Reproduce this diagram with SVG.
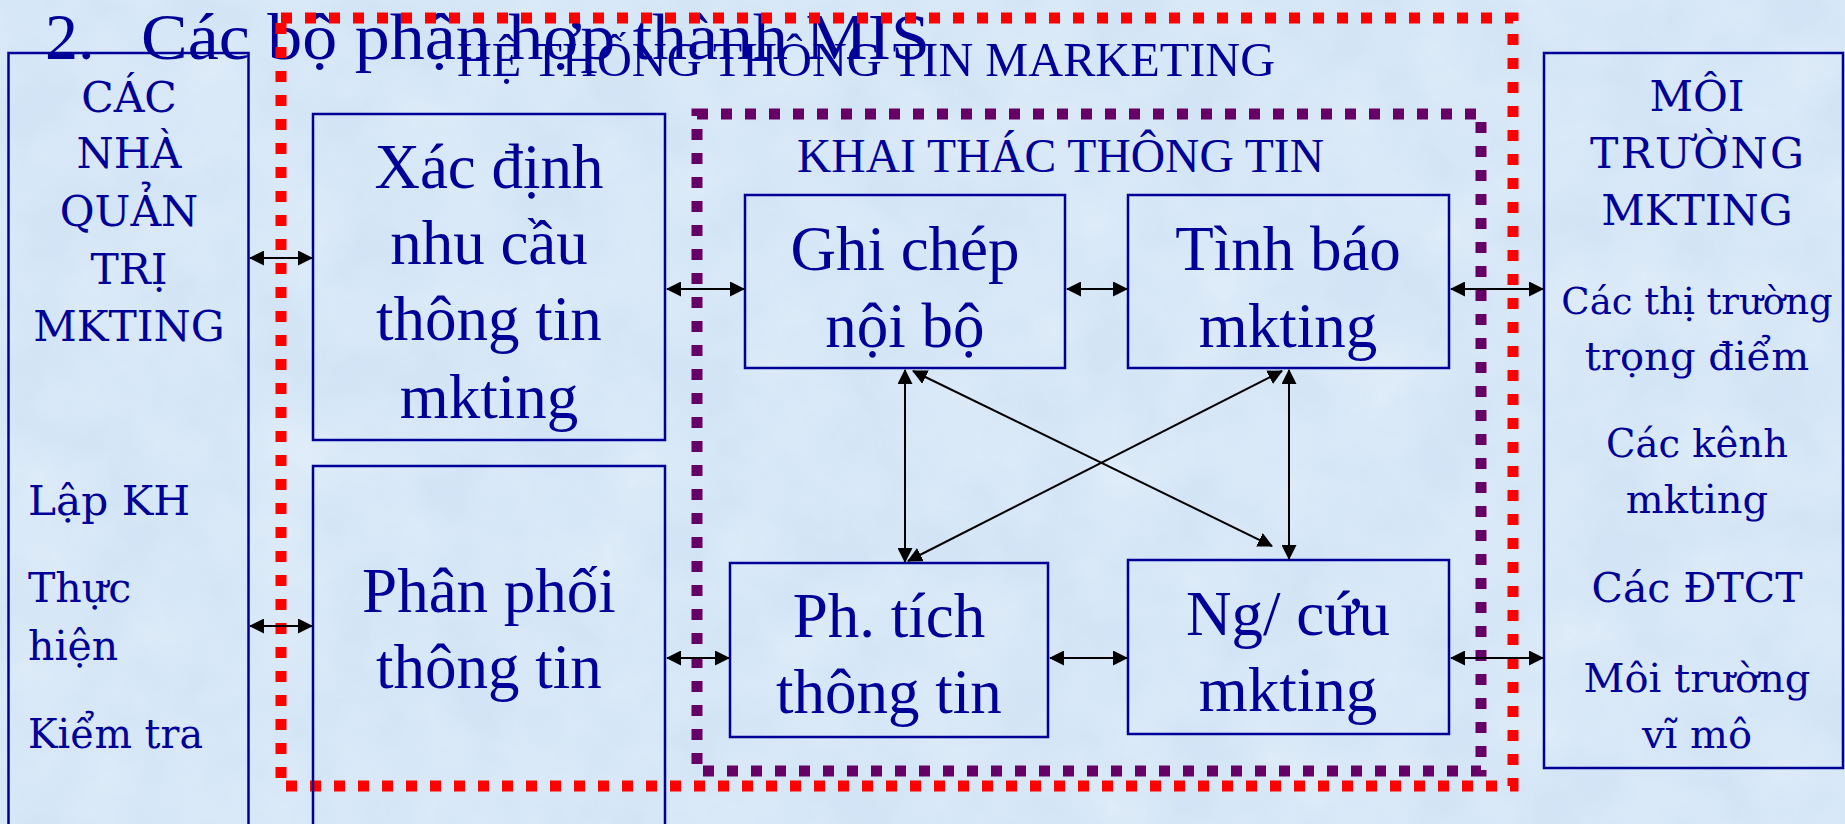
<svg xmlns="http://www.w3.org/2000/svg" width="1845" height="824" viewBox="0 0 1845 824">
<style>
.t{font-family:"Liberation Serif","Times New Roman",serif;fill:#000099;text-anchor:middle}
.d{font-family:"DejaVu Serif",serif;fill:#000099;font-size:41px}
.d.cap{font-size:42.5px}
.d.s40{font-size:40px}
.dc{text-anchor:middle}
.box{fill:none;stroke:#000099;stroke-width:2.5}
.con line{stroke:#000;stroke-width:2;marker-start:url(#ah);marker-end:url(#ah)}
</style>
<defs>
<marker id="ah" viewBox="0 0 15 15" refX="14" refY="7.5" markerWidth="15" markerHeight="15" markerUnits="userSpaceOnUse" orient="auto-start-reverse">
<path d="M0,0 L15,7.5 L0,15 z" fill="#000"/>
</marker>
<filter id="tex" x="0" y="0" width="100%" height="100%">
<feTurbulence type="fractalNoise" baseFrequency="0.012" numOctaves="4" seed="3"/>
<feColorMatrix type="matrix" values="0 0 0 0 0.86  0 0 0 0 0.92  0 0 0 0 0.98  0 0 0 -1.2 0.9"/>
</filter>
</defs>
<rect width="1845" height="824" fill="#D2E4F5"/>
<rect width="1845" height="824" filter="url(#tex)" opacity="0.6"/>

<g id="title">
<text x="45" y="59" font-family="Liberation Serif, serif" font-size="66" fill="#000099">2.</text>
<text x="141" y="59" font-family="Liberation Serif, serif" font-size="66" fill="#000099" textLength="789" lengthAdjust="spacingAndGlyphs">Các bộ phận hợp thành MIS</text>
</g>

<g id="he-thong">
<rect x="281" y="18" width="1232" height="768" fill="none" stroke="#FF0000" stroke-width="11" stroke-dasharray="11 13"/>
<text class="t" x="866" y="76" font-size="48" textLength="818" lengthAdjust="spacingAndGlyphs">HỆ THỐNG THÔNG TIN MARKETING</text>
</g>

<g id="khai-thac">
<rect x="697" y="114" width="784" height="657" fill="none" stroke="#660066" stroke-width="11" stroke-dasharray="11 13"/>
<text x="797" y="172" font-family="Liberation Serif, serif" font-size="48" fill="#000099" textLength="527" lengthAdjust="spacingAndGlyphs">KHAI THÁC THÔNG TIN</text>
</g>

<g id="nha-quan-tri">
<rect class="box" x="8.5" y="53" width="240" height="800"/>
<text class="d dc cap" x="129" y="112">CÁC</text>
<text class="d dc cap" x="129" y="168">NHÀ</text>
<text class="d dc cap" x="129" y="226">QUẢN</text>
<text class="d dc cap" x="129" y="284">TRỊ</text>
<text class="d dc cap" x="129" y="341">MKTING</text>
<text class="d" x="28" y="515" textLength="162" lengthAdjust="spacingAndGlyphs">Lập KH</text>
<text class="d" x="28" y="602">Thực</text>
<text class="d" x="28" y="660">hiện</text>
<text class="d" x="28" y="748" textLength="175" lengthAdjust="spacingAndGlyphs">Kiểm tra</text>
</g>

<g id="xac-dinh">
<rect class="box" x="313" y="114" width="352" height="326"/>
<text class="t" x="489" y="188" font-size="63">Xác định</text>
<text class="t" x="489" y="264" font-size="63">nhu cầu</text>
<text class="t" x="489" y="340" font-size="63">thông tin</text>
<text class="t" x="489" y="418" font-size="63">mkting</text>
</g>

<g id="phan-phoi">
<rect class="box" x="313" y="466" width="352" height="400"/>
<text class="t" x="489" y="612" font-size="63">Phân phối</text>
<text class="t" x="489" y="688" font-size="63">thông tin</text>
</g>

<g id="ghi-chep">
<rect class="box" x="745" y="195" width="320" height="173"/>
<text class="t" x="905" y="270" font-size="63">Ghi chép</text>
<text class="t" x="905" y="347" font-size="63">nội bộ</text>
</g>

<g id="tinh-bao">
<rect class="box" x="1128" y="195" width="321" height="173"/>
<text class="t" x="1288" y="270" font-size="63">Tình báo</text>
<text class="t" x="1288" y="347" font-size="63">mkting</text>
</g>

<g id="phan-tich">
<rect class="box" x="730" y="563" width="318" height="174"/>
<text class="t" x="889" y="637" font-size="63">Ph. tích</text>
<text class="t" x="889" y="713" font-size="63">thông tin</text>
</g>

<g id="nghien-cuu">
<rect class="box" x="1128" y="560" width="321" height="174"/>
<text class="t" x="1288" y="635" font-size="63">Ng/ cứu</text>
<text class="t" x="1288" y="711" font-size="63">mkting</text>
</g>

<g id="moi-truong">
<rect class="box" x="1544" y="53" width="299" height="715"/>
<text class="d dc cap" x="1697" y="111">MÔI</text>
<text class="d dc cap" x="1697" y="168" textLength="214" lengthAdjust="spacing">TRƯỜNG</text>
<text class="d dc cap" x="1697" y="225">MKTING</text>
<text class="d dc" x="1697" y="314" style="font-size:37px">Các thị trường</text>
<text class="d dc s40" x="1697" y="370">trọng điểm</text>
<text class="d dc" x="1697" y="457" style="font-size:38.5px">Các kênh</text>
<text class="d dc s40" x="1697" y="513">mkting</text>
<text class="d dc" x="1697" y="602" textLength="211" lengthAdjust="spacingAndGlyphs">Các ĐTCT</text>
<text class="d dc s40" x="1697" y="692">Môi trường</text>
<text class="d dc s40" x="1697" y="748">vĩ mô</text>
</g>

<g id="connectors" class="con">
<line x1="250" y1="258" x2="312" y2="258"/>
<line x1="250" y1="626" x2="312" y2="626"/>
<line x1="667" y1="289" x2="744" y2="289"/>
<line x1="1067" y1="289" x2="1127" y2="289"/>
<line x1="1451" y1="289" x2="1543" y2="289"/>
<line x1="667" y1="658" x2="729" y2="658"/>
<line x1="1050" y1="658" x2="1127" y2="658"/>
<line x1="1451" y1="658" x2="1543" y2="658"/>
<line x1="905" y1="370" x2="905" y2="562"/>
<line x1="1289" y1="370" x2="1289" y2="559"/>
<line x1="913" y1="371" x2="1272" y2="546"/>
<line x1="1282" y1="371" x2="908" y2="561"/>
</g>
</svg>
